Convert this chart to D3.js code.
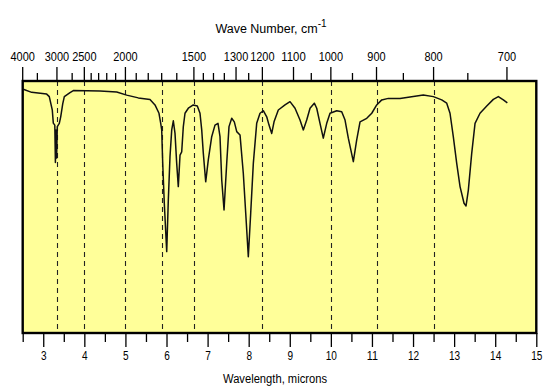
<!DOCTYPE html>
<html>
<head>
<meta charset="utf-8">
<script src="https://cdn.jsdelivr.net/npm/d3@7"></script>
<style>
html,body{margin:0;padding:0;background:#fff;}
svg{display:block;}
text{font-family:"Liberation Sans",Arial,sans-serif;fill:#000;}
</style>
</head>
<body>
<svg id="chart" width="544" height="387"></svg>
<script>
// Spectrum trace: wavelength (microns) and % transmittance
const wavelength = [2.515,2.719,3.084,3.147,3.220,3.245,3.281,3.296,3.311,3.325,3.342,3.391,3.425,3.474,3.513,3.651,3.732,4.381,4.788,5.031,5.314,5.598,5.720,5.817,5.859,5.883,5.908,5.946,6.005,6.044,6.085,6.127,6.166,6.207,6.248,6.287,6.329,6.370,6.409,6.450,6.531,6.652,6.750,6.815,6.857,6.896,6.954,7.017,7.100,7.180,7.253,7.302,7.344,7.400,7.465,7.521,7.587,7.650,7.709,7.789,7.869,7.928,7.991,8.049,8.113,8.195,8.276,8.356,8.439,8.495,8.561,8.617,8.721,8.884,9.006,9.128,9.249,9.330,9.412,9.493,9.597,9.656,9.736,9.816,9.899,9.980,10.143,10.264,10.345,10.425,10.547,10.629,10.710,10.873,10.995,11.116,11.238,11.398,11.683,12.250,12.494,12.698,12.820,12.900,12.980,13.063,13.144,13.241,13.290,13.346,13.428,13.509,13.630,13.794,13.954,14.076,14.198,14.295];
const transmittance = [96.7,95.5,94.8,93.8,88.5,83.3,82.5,67.7,80.6,69.4,81.9,83.2,85.8,90.9,93.8,95.4,96.2,96.0,95.6,94.4,93.3,92.7,90.5,87.2,83.2,80.6,67.3,51.5,32.3,52.8,70.0,80.6,84.2,79.2,67.3,58.1,70.6,71.9,81.9,87.2,89.2,90.5,90.1,87.2,80.6,71.3,60.0,68.7,77.9,82.5,83.2,77.9,60.7,48.8,67.3,81.9,85.2,83.8,79.9,78.6,63.4,47.5,30.3,47.5,67.3,83.2,87.2,88.2,85.8,82.5,79.2,83.8,88.5,90.5,91.8,89.2,84.5,80.6,84.5,89.2,91.2,89.2,83.2,77.3,83.2,87.2,88.2,87.8,84.5,77.3,68.0,76.6,83.8,85.2,87.2,90.5,92.5,93.1,93.1,94.4,93.8,92.5,91.2,87.2,77.9,67.3,58.1,51.5,50.4,56.7,71.3,83.2,87.2,90.1,92.7,93.8,92.5,91.3];

// Axes
const wlMajorTicks = [3,4,5,6,7,8,9,10,11,12,13,14,15];
const wlMinorTicks = [2.5,3.5,4.5,5.5,6.5,7.5,8.5,9.5,10.5,11.5,12.5,13.5,14.5];
const wnMajorTicks = [4000,3000,2500,2000,1500,1300,1200,1100,1000,900,800,700];
const wnMinorTicks = [3500,2700,2400,2300,2200,2100,1900,1800,1700,1600,1450,1400,1350,1250,1050,950,850,750];
const wnGridLines = [3000,2500,2000,1700,1500,1200,1000,900,800];

const svg = d3.select("#chart");
const L = 22.7, R = 536.3, T = 81, B = 333;
const x = d3.scaleLinear().domain([2.5, 15]).range([L, R]);
const y = d3.scaleLinear().domain([0, 100]).range([B, T]);
const xw = wn => x(10000 / wn);

// background
svg.append("rect").attr("x", L).attr("y", T).attr("width", R - L).attr("height", B - T)
  .attr("fill", "#ffff99");

// dashed grid lines
svg.append("g").selectAll("line").data(wnGridLines).join("line")
  .attr("x1", d => Math.round(xw(d)) + 0.5).attr("x2", d => Math.round(xw(d)) + 0.5)
  .attr("y1", T).attr("y2", B)
  .attr("stroke", "#222").attr("stroke-width", 1.1).attr("stroke-dasharray", "5,4");

// spectrum
const line = d3.line().x(d => x(d[0])).y(d => y(d[1]));
svg.append("path").datum(wavelength.map((w, i) => [w, transmittance[i]]))
  .attr("d", line).attr("fill", "none").attr("stroke", "#111").attr("stroke-width", 1.5)
  .attr("stroke-linejoin", "round");

// border
svg.append("rect").attr("x", L).attr("y", T).attr("width", R - L).attr("height", B - T)
  .attr("fill", "none").attr("stroke", "#000").attr("stroke-width", 2.4);

// bottom axis
const gb = svg.append("g").attr("transform", `translate(0,${B})`);
gb.call(d3.axisBottom(x).tickValues(wlMajorTicks).tickSize(14).tickPadding(4).tickFormat(d3.format("d")));
gb.call(g => g.select(".domain").remove());
const gbm = svg.append("g").attr("transform", `translate(0,${B})`);
gbm.call(d3.axisBottom(x).tickValues(wlMinorTicks).tickSize(9).tickFormat(""));
gbm.call(g => g.select(".domain").remove());
svg.selectAll(".tick line").attr("stroke", "#000").attr("stroke-width", 1.3);
gb.selectAll(".tick text").attr("font-size", 12)
  .attr("font-family", '"Liberation Sans",Arial,sans-serif')
  .attr("textLength", d => String(d).length * 5.6)
  .attr("lengthAdjust", "spacingAndGlyphs");

// top axis (wave number)
const gt = svg.append("g");
gt.selectAll("line.maj").data(wnMajorTicks).join("line").attr("class", "maj")
  .attr("x1", d => xw(d)).attr("x2", d => xw(d)).attr("y1", T).attr("y2", T - 14)
  .attr("stroke", "#000").attr("stroke-width", 1.3);
gt.selectAll("line.min").data(wnMinorTicks).join("line").attr("class", "min")
  .attr("x1", d => xw(d)).attr("x2", d => xw(d)).attr("y1", T).attr("y2", T - 8)
  .attr("stroke", "#000").attr("stroke-width", 1.3);
gt.selectAll("text").data(wnMajorTicks).join("text")
  .attr("x", d => xw(d)).attr("y", 61).attr("text-anchor", "middle").attr("font-size", 12.5)
  .attr("textLength", d => String(d).length * 6.1)
  .attr("lengthAdjust", "spacingAndGlyphs")
  .text(d => d);

// titles
const tt = svg.append("text").attr("x", 271).attr("y", 33).attr("text-anchor", "middle").attr("font-size", 12.5);
tt.append("tspan").text("Wave Number, cm");
tt.append("tspan").attr("dy", -6).attr("font-size", 10).text("-1");
svg.append("text").attr("x", 275).attr("y", 383).attr("text-anchor", "middle").attr("font-size", 12.5)
  .attr("textLength", 104).attr("lengthAdjust", "spacingAndGlyphs")
  .text("Wavelength, microns");
</script>
</body>
</html>
